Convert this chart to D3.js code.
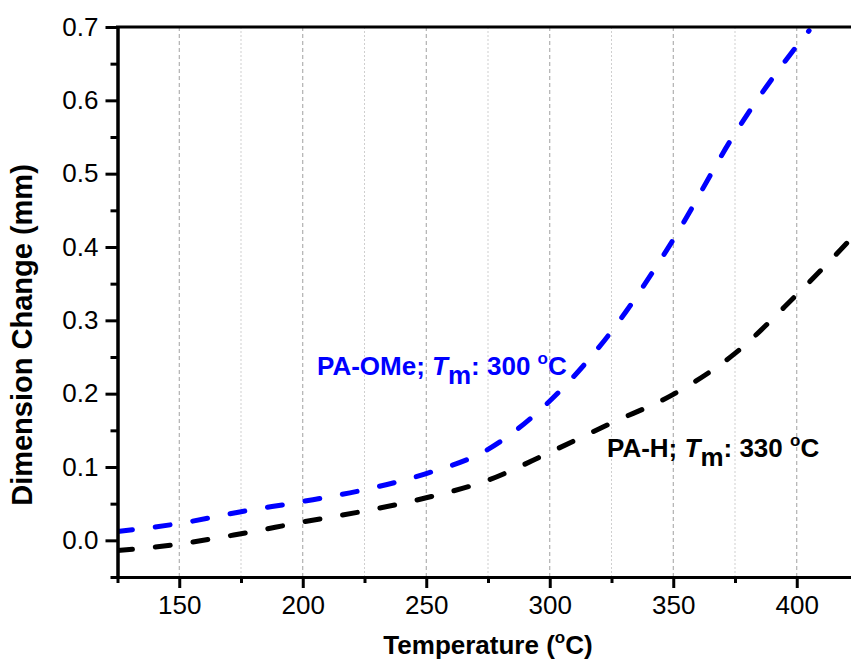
<!DOCTYPE html>
<html>
<head>
<meta charset="utf-8">
<script src="https://cdn.jsdelivr.net/npm/d3@7"></script>
<style>
  body { margin: 0; background: #fff; }
  text { font-family: "Liberation Sans", Arial, sans-serif; }
</style>
</head>
<body>
<div id="chart"></div>
<script>
var w = 851,
	h = 666;

// Data
var tempOMe = [125, 150, 175, 200, 225, 250, 275, 300, 325, 350, 375, 400, 405];
var valOMe  = [0.012, 0.023, 0.039, 0.053, 0.069, 0.091, 0.124, 0.190, 0.285, 0.410, 0.555, 0.674, 0.695];
var tempH   = [125, 150, 175, 200, 225, 250, 275, 300, 325, 350, 375, 400, 425];
var valH    = [-0.014, -0.005, 0.009, 0.025, 0.040, 0.058, 0.082, 0.120, 0.160, 0.199, 0.255, 0.335, 0.422];

var xMajor = [150, 200, 250, 300, 350, 400];
var xMinor = [125, 175, 225, 275, 325, 375, 425];
var yMajor = [0.0, 0.1, 0.2, 0.3, 0.4, 0.5, 0.6, 0.7];
var yMinor = [-0.05, 0.05, 0.15, 0.25, 0.35, 0.45, 0.55, 0.65];

var m = {left: 117.5, top: 27, right: 858.5, bottom: 577};

var x = d3.scaleLinear().domain([125, 425]).range([m.left, m.right]);
var y = d3.scaleLinear().domain([-0.05, 0.7]).range([m.bottom, m.top]);

var svg = d3.select("#chart").append("svg")
	.attr("width", w)
	.attr("height", h);

svg.append("defs").append("clipPath").attr("id", "clip")
	.append("rect")
	.attr("x", m.left).attr("y", m.top)
	.attr("width", m.right - m.left).attr("height", m.bottom - m.top);

// vertical grid lines
svg.append("g").selectAll("line")
	.data(xMajor).enter().append("line")
	.attr("x1", d => x(d)).attr("x2", d => x(d))
	.attr("y1", m.top).attr("y2", m.bottom)
	.attr("stroke", "#a0a0a0").attr("stroke-width", 1)
	.attr("stroke-dasharray", "4,3");
svg.append("g").selectAll("line")
	.data(xMinor.slice(1)).enter().append("line")
	.attr("x1", d => x(d)).attr("x2", d => x(d))
	.attr("y1", m.top).attr("y2", m.bottom)
	.attr("stroke", "#cfcfcf").attr("stroke-width", 1)
	.attr("stroke-dasharray", "2,2");

// curves
var line = d3.line()
	.x(d => x(d[0]))
	.y(d => y(d[1]))
	.curve(d3.curveMonotoneX);

var plot = svg.append("g").attr("clip-path", "url(#clip)");
plot.append("path")
	.datum(d3.zip(tempH, valH))
	.attr("d", line)
	.attr("fill", "none")
	.attr("stroke", "#000")
	.attr("stroke-width", 5)
	.attr("stroke-linecap", "round")
	.attr("stroke-dasharray", "15,23");
plot.append("path")
	.datum(d3.zip(tempOMe, valOMe))
	.attr("d", line)
	.attr("fill", "none")
	.attr("stroke", "#0000ff")
	.attr("stroke-width", 5)
	.attr("stroke-linecap", "round")
	.attr("stroke-dasharray", "15,23");

// axes
var xAxis = svg.append("g")
	.attr("transform", "translate(0," + m.bottom + ")")
	.call(d3.axisBottom(x).tickValues(xMajor).tickSize(11).tickPadding(8).tickSizeOuter(0));
var xAxisMinor = svg.append("g")
	.attr("transform", "translate(0," + m.bottom + ")")
	.call(d3.axisBottom(x).tickValues(xMinor).tickSize(6).tickFormat("").tickSizeOuter(0));
var yAxis = svg.append("g")
	.attr("transform", "translate(" + m.left + ",0)")
	.call(d3.axisLeft(y).tickValues(yMajor).tickSize(12).tickPadding(7).tickFormat(d3.format(".1f")).tickSizeOuter(0));
var yAxisMinor = svg.append("g")
	.attr("transform", "translate(" + m.left + ",0)")
	.call(d3.axisLeft(y).tickValues(yMinor).tickSize(7).tickFormat("").tickSizeOuter(0));

svg.selectAll(".domain").attr("stroke", "#000").attr("stroke-width", 3);
svg.selectAll(".tick line").attr("stroke", "#000").attr("stroke-width", 3);
svg.selectAll(".tick text")
	.attr("font-family", "Liberation Sans, Arial, sans-serif")
	.attr("font-size", "26px")
	.attr("fill", "#000");

// top frame line
svg.append("line")
	.attr("x1", m.left - 1.5).attr("x2", m.right)
	.attr("y1", m.top).attr("y2", m.top)
	.attr("stroke", "#000").attr("stroke-width", 3);

// axis titles
var xt = svg.append("text")
	.attr("x", (m.left + m.right) / 2)
	.attr("y", 654)
	.attr("text-anchor", "middle")
	.attr("font-size", "26px")
	.attr("font-weight", "bold");
xt.append("tspan").text("Temperature (");
xt.append("tspan").attr("font-size", "17px").attr("dy", -11).text("o");
xt.append("tspan").attr("dy", 11).text("C)");

svg.append("text")
	.attr("transform", "translate(32,335) rotate(-90)")
	.attr("text-anchor", "middle")
	.attr("font-size", "29px")
	.attr("font-weight", "bold")
	.text("Dimension Change (mm)");

// series labels
function seriesLabel(px, py, name, temp, color) {
	var t = svg.append("text")
		.attr("x", px).attr("y", py)
		.attr("font-size", "26px")
		.attr("font-weight", "bold")
		.attr("fill", color);
	t.append("tspan").text(name + "; ");
	t.append("tspan").attr("font-style", "italic").text("T");
	t.append("tspan").attr("dy", 9).text("m");
	t.append("tspan").attr("dy", -9).text(": " + temp + " ");
	t.append("tspan").attr("font-size", "17px").attr("dy", -11).text("o");
	t.append("tspan").attr("dy", 11).text("C");
}
seriesLabel(317, 375, "PA-OMe", 300, "#0000ff");
seriesLabel(607, 457, "PA-H", 330, "#000");
</script>
</body>
</html>
